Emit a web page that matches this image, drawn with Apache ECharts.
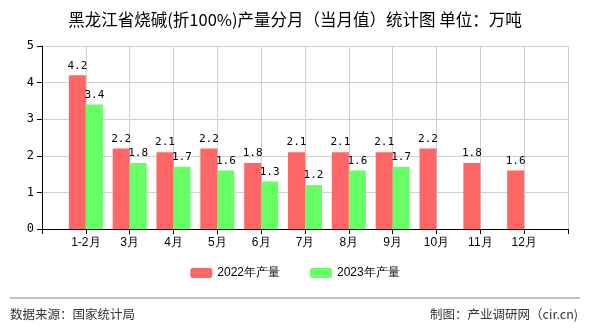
<!DOCTYPE html>
<html><head><meta charset="utf-8">
<script src="https://cdn.jsdelivr.net/npm/echarts@6/dist/echarts.min.js"></script>
<style>html,body{margin:0;padding:0;background:#fff}#c{width:590px;height:330px}</style>
</head><body><div id="c"></div>
<script>
var categories = ['1-2月','3月','4月','5月','6月','7月','8月','9月','10月','11月','12月'];
var series2022 = [4.2, 2.2, 2.1, 2.2, 1.8, 2.1, 2.1, 2.1, 2.2, 1.8, 1.6];
var series2023 = [3.4, 1.8, 1.7, 1.6, 1.3, 1.2, 1.6, 1.7, null, null, null];
var yTicks = [0, 1, 2, 3, 4, 5];

var cats = [''].concat(categories).concat(['']);
function pad(a){ return ['-'].concat(a.map(function(v){return v==null?'-':v;})).concat(['-']); }
var chart = echarts.init(document.getElementById('c'));
var labelStyle = {show:true, position:'top', color:'#000', fontSize:11, fontFamily:'DejaVu Sans Mono', distance:4};
chart.setOption({
  animation:false,
  title:{text:'黑龙江省烧碱(折100%)产量分月（当月值）统计图 单位：万吨', left:'center', top:6,
    textStyle:{fontSize:16.5, fontWeight:'normal', color:'#000', fontFamily:'Noto Sans CJK SC'}},
  grid:{left:42, right:22, top:46, bottom:101},
  legend:{bottom:46, itemWidth:22, itemHeight:10, itemGap:30, textStyle:{fontSize:12, color:'#000'},
    data:['2022年产量','2023年产量']},
  xAxis:{type:'category', data:cats, boundaryGap:false,
    axisLine:{lineStyle:{color:'#000'}}, axisTick:{show:true, lineStyle:{color:'#000'}},
    axisLabel:{color:'#000', fontSize:12, interval:0, margin:8},
    splitLine:{show:true, lineStyle:{color:'#d0d0d0'}}},
  yAxis:{type:'value', min:yTicks[0], max:yTicks[yTicks.length-1], interval:1,
    axisLine:{show:true, lineStyle:{color:'#000'}}, axisTick:{show:true, lineStyle:{color:'#000'}},
    axisLabel:{color:'#000', fontSize:12, fontFamily:'DejaVu Sans Mono'},
    splitLine:{lineStyle:{color:'#d0d0d0'}}},
  series:[
    {name:'2022年产量', type:'bar', data:pad(series2022), barWidth:17, barGap:'0%',
      itemStyle:{color:'#ff6666'}, label:labelStyle},
    {name:'2023年产量', type:'bar', data:pad(series2023), barWidth:17, barGap:'0%',
      itemStyle:{color:'#66ff66'}, label:labelStyle}
  ],
  graphic:[
    {type:'line', shape:{x1:10, y1:298, x2:580, y2:298}, style:{stroke:'#888', lineWidth:1}},
    {type:'text', left:10, top:308, style:{text:'数据来源：国家统计局', fontSize:12.5, fill:'#333', fontFamily:'Noto Sans CJK SC'}},
    {type:'text', right:12, top:308, style:{text:'制图：产业调研网（cir.cn)', fontSize:12.5, fill:'#333', fontFamily:'Noto Sans CJK SC'}}
  ]
});
</script></body></html>
